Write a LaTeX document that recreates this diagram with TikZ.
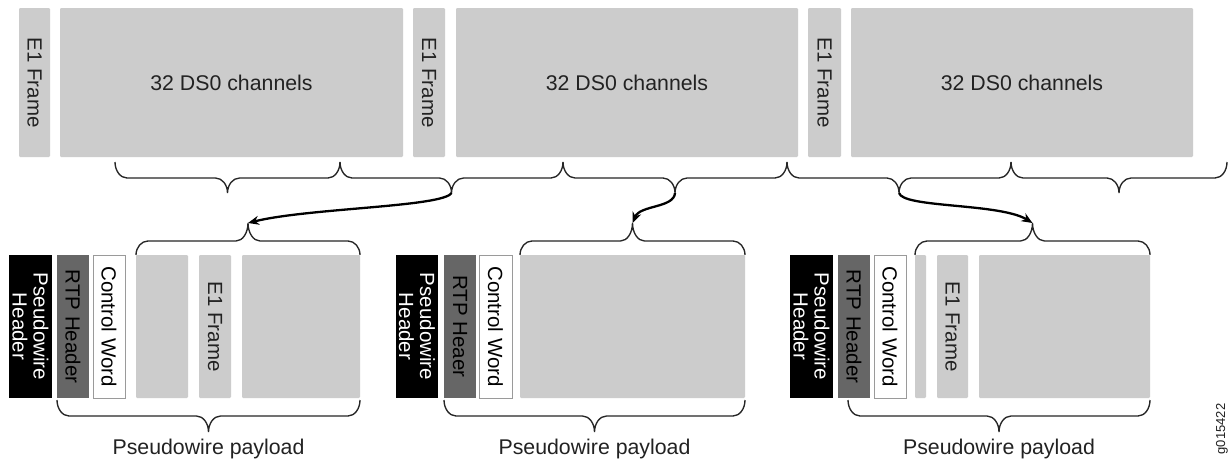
\documentclass[tikz,border=0pt]{standalone}
\usepackage{fontspec}
\setmainfont{Liberation Sans}
\usetikzlibrary{arrows.meta}

\definecolor{paleg}{HTML}{CCCCCC}
\definecolor{darkg}{HTML}{666666}
\definecolor{edgeg}{HTML}{9A9A9A}
\definecolor{ink}{HTML}{222222}

% rectangular block given by its corners (x1,y1)-(x2,y2), y measured downwards
\newcommand{\blk}[6]{%
  \pgfmathsetmacro\blkw{#5-#3}\pgfmathsetmacro\blkh{#6-#4}%
  \node[#2, anchor=north west, minimum width=\blkw pt, minimum height=\blkh pt] (#1) at (#3,#4) {};}

% curly brace: ends x1,x2 at y0, bar at yL, tip at (xm,yT); tip saved as a coordinate
\newcommand{\cbrace}[7]{%
  \draw[bracepen] (#1,#4) .. controls (#1,{#4+0.55*(#5-#4)}) and ({#1+0.45*12},#5) .. ({#1+12},#5)
    -- ({#3-12},#5) .. controls ({#3-0.45*12},#5) and (#3,{#5+0.45*(#6-#5)}) .. (#3,#6)
    .. controls (#3,{#5+0.45*(#6-#5)}) and ({#3+0.45*12},#5) .. ({#3+12},#5)
    -- ({#2-12},#5) .. controls ({#2-0.45*12},#5) and (#2,{#4+0.55*(#5-#4)}) .. (#2,#4);
  \coordinate (#7) at (#3,#6);}

\tikzset{
  every node/.style={inner sep=0pt, outer sep=0pt},
  pale/.style={fill=paleg, rounded corners=1.2pt},
  rtpbox/.style={fill=darkg},
  pwbox/.style={fill=black},
  cwbox/.style={fill=white, draw=edgeg, line width=1pt},
  lbl/.style={font=\fontsize{21.3}{22}\selectfont, text=ink},
  vlbl/.style={font=\fontsize{20.5}{21}\selectfont, text=ink, rotate=-90, align=center},
  bracepen/.style={line width=1.35pt, draw=black!85},
  flow/.style={line width=2.3pt, -{Stealth[length=11pt, width=9pt]}},
}

\begin{document}
\begin{tikzpicture}[x=1pt, y=-1pt]
\fill[white] (0,0) rectangle (1230,464);
\useasboundingbox (0,0) rectangle (1230,464);

% ---- E1 stream: frame header + 32 DS0 channels, three times ----
\blk{e1a}{pale}{19}{8}{50}{157}
\blk{dsa}{pale}{60}{8}{403}{157}
\blk{e1b}{pale}{413}{8}{445}{157}
\blk{dsb}{pale}{456}{8}{798}{157}
\blk{e1c}{pale}{808}{8}{841}{157}
\blk{dsc}{pale}{851}{8}{1193}{157}

\node[vlbl] (e1a-t) at (e1a.center) {E1 Frame};
\node[vlbl] (e1b-t) at (e1b.center) {E1 Frame};
\node[vlbl] (e1c-t) at (e1c.center) {E1 Frame};
\node[lbl] (dsa-t) at (dsa.center) {32 DS0 channels};
\node[lbl] (dsb-t) at (dsb.center) {32 DS0 channels};
\node[lbl] (dsc-t) at (dsc.center) {32 DS0 channels};

% ---- stream cut into payload-sized pieces ----
\cbrace{115}{340}{227.5}{162}{178}{193}{tb1}
\cbrace{340}{563}{451.5}{162}{178}{193}{tb2}
\cbrace{563}{787}{675}{162}{178}{193}{tb3}
\cbrace{787}{1011}{899}{162}{178}{193}{tb4}
\cbrace{1011}{1227}{1119}{162}{178}{193}{tb5}

% ---- packet 1 ----
\blk{pw1}{pwbox}{9}{255}{52}{398}
\blk{rtp1}{rtpbox}{57}{255}{89}{398}
\blk{cw1}{cwbox}{93}{255}{125}{398}
\blk{ga1}{pale}{136}{255}{188}{398}
\blk{ef1}{pale}{199}{255}{231}{398}
\blk{gb1}{pale}{242}{255}{360}{398}
\node[vlbl, text=white] (pw1-t) at (pw1.center) {Pseudowire\\Header};
\node[vlbl, text=black] (rtp1-t) at (rtp1.center) {RTP Header};
\node[vlbl, text=black] (cw1-t) at (cw1.center) {Control Word};
\node[vlbl] (ef1-t) at (ef1.center) {E1 Frame};
\cbrace{136}{360}{248}{255}{241}{223}{pb1}
\cbrace{57}{360}{208.5}{400}{416}{432}{qb1}
\node[lbl, anchor=base] (pl1) at (208.5,454) {Pseudowire payload};

% ---- packet 2 ----
\blk{pw2}{pwbox}{396}{255}{438}{398}
\blk{rtp2}{rtpbox}{444}{255}{476}{398}
\blk{cw2}{cwbox}{479}{255}{512}{398}
\blk{ga2}{pale}{520}{255}{745}{398}
\node[vlbl, text=white] (pw2-t) at (pw2.center) {Pseudowire\\Header};
\node[vlbl, text=black] (rtp2-t) at (rtp2.center) {RTP Heaer};
\node[vlbl, text=black] (cw2-t) at (cw2.center) {Control Word};
\cbrace{520}{745}{632.5}{255}{241}{223}{pb2}
\cbrace{444}{745}{594.5}{400}{416}{432}{qb2}
\node[lbl, anchor=base] (pl2) at (594.5,454) {Pseudowire payload};

% ---- packet 3 ----
\blk{pw3}{pwbox}{790}{255}{833}{398}
\blk{rtp3}{rtpbox}{838}{255}{870}{398}
\blk{cw3}{cwbox}{874}{255}{906}{398}
\blk{ga3}{pale}{915}{255}{926}{398}
\blk{ef3}{pale}{937}{255}{968}{398}
\blk{gb3}{pale}{979}{255}{1150}{398}
\node[vlbl, text=white] (pw3-t) at (pw3.center) {Pseudowire\\Header};
\node[vlbl, text=black] (rtp3-t) at (rtp3.center) {RTP Header};
\node[vlbl, text=black] (cw3-t) at (cw3.center) {Control Word};
\node[vlbl] (ef3-t) at (ef3.center) {E1 Frame};
\cbrace{915}{1150}{1032.5}{255}{241}{223}{pb3}
\cbrace{848}{1150}{999}{400}{416}{432}{qb3}
\node[lbl, anchor=base] (pl3) at (999,454) {Pseudowire payload};

% ---- mapping of stream pieces into packets ----
\draw[flow] (tb2) .. controls (443,207) and (308,208) .. (pb1);
\draw[flow] (tb3) .. controls (674,208) and (640,205) .. (pb2);
\draw[flow] (tb4) .. controls (903,208) and (1000,203) .. (pb3);

% figure id
\node[font=\fontsize{13}{14}\selectfont, text=ink, rotate=90] (fid) at (1222,429) {g015422};
\end{tikzpicture}
\end{document}
